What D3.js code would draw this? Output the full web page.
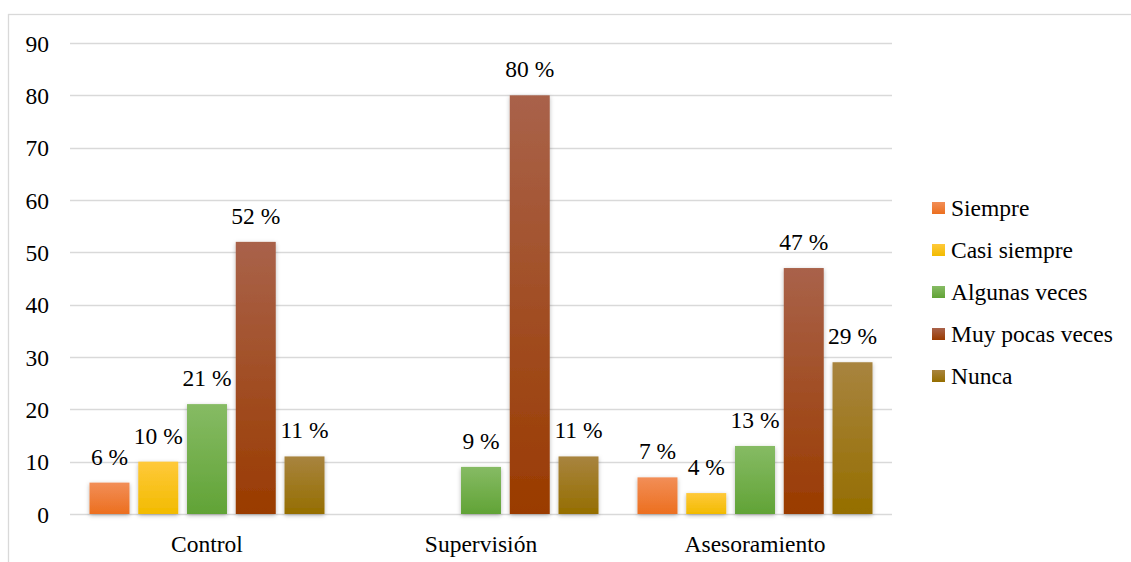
<!DOCTYPE html>
<html>
<head>
<meta charset="utf-8">
<script src="https://cdn.jsdelivr.net/npm/d3@7/dist/d3.min.js"></script>
<style>
  html, body { margin: 0; padding: 0; background: #fff; }
  svg { display: block; }
</style>
</head>
<body>
<svg id="chart" width="1131" height="562"></svg>
<script>
// Response categories (series) and survey dimensions (groups)
const categories = ["Control", "Supervisión", "Asesoramiento"];
const seriesNames = ["Siempre", "Casi siempre", "Algunas veces", "Muy pocas veces", "Nunca"];
// Percentages per dimension; null where no answer was recorded
const siempre       = [6, null, 7];
const casiSiempre   = [10, null, 4];
const algunasVeces  = [21, 9, 13];
const muyPocasVeces = [52, 80, 47];
const nunca         = [11, 11, 29];
const yTicks = [0, 10, 20, 30, 40, 50, 60, 70, 80, 90];

const seriesValues = [siempre, casiSiempre, algunasVeces, muyPocasVeces, nunca];
// top / bottom colours of each bar gradient
const colors = [
  ["#f28e57", "#ec6f1f"],
  ["#ffc93a", "#f2bb00"],
  ["#86bb64", "#61a336"],
  ["#a9624a", "#9a3b00"],
  ["#a8843f", "#956e00"]
];

const FONT = "Liberation Serif, Times New Roman, serif";
const FS = 23.5;

const svg = d3.select("#chart");
const W = 1131, H = 562;

// outer frame
svg.append("rect")
  .attr("x", 8.5).attr("y", 14.5)
  .attr("width", W + 10).attr("height", H + 10)
  .attr("fill", "none").attr("stroke", "#d9d9d9").attr("stroke-width", 1.3);

const plot = { left: 70, right: 892, top: 43, bottom: 514 };

const x0 = d3.scaleBand().domain(categories).range([plot.left, plot.right]).paddingInner(0).paddingOuter(0);
const x1 = d3.scaleBand().domain(seriesNames).range([19.5, x0.bandwidth() - 19.5]).paddingInner(0.18).paddingOuter(0);
const y = d3.scaleLinear().domain([0, 90]).range([plot.bottom, plot.top]);

const defs = svg.append("defs");
colors.forEach((c, i) => {
  const g = defs.append("linearGradient").attr("id", "grad" + i)
    .attr("x1", 0).attr("y1", 0).attr("x2", 0).attr("y2", 1);
  g.append("stop").attr("offset", "0%").attr("stop-color", c[0]);
  g.append("stop").attr("offset", "100%").attr("stop-color", c[1]);
});
const sh = defs.append("filter").attr("id", "shadow")
  .attr("x", "-30%").attr("y", "-10%").attr("width", "160%").attr("height", "130%");
sh.append("feDropShadow").attr("dx", 0).attr("dy", 1.5).attr("stdDeviation", 2)
  .attr("flood-color", "#000").attr("flood-opacity", 0.28);

// gridlines
svg.append("g")
  .selectAll("line").data(yTicks).join("line")
  .attr("x1", plot.left).attr("x2", plot.right)
  .attr("y1", d => Math.round(y(d)) + 0.5).attr("y2", d => Math.round(y(d)) + 0.5)
  .attr("stroke", "#d9d9d9").attr("stroke-width", 1.5);

// y axis labels
const yAxis = d3.axisLeft(y).tickValues(yTicks).tickSize(0).tickPadding(0);
const yg = svg.append("g").attr("transform", `translate(49,0)`).call(yAxis)
  .attr("font-family", FONT).attr("font-size", FS);
yg.select(".domain").remove();
yg.selectAll("text").attr("fill", "#000").attr("dy", "0.35em");

// x axis labels
const xAxis = d3.axisBottom(x0).tickSize(0).tickPadding(0);
const xg = svg.append("g").attr("transform", `translate(0,${plot.bottom})`).call(xAxis)
  .attr("font-family", FONT).attr("font-size", FS);
xg.select(".domain").remove();
xg.selectAll("text").attr("fill", "#000").attr("dy", null).attr("y", 38);

// bars
const groups = svg.append("g").selectAll("g").data(categories).join("g")
  .attr("transform", d => `translate(${x0(d)},0)`);

const rows = (cat, ci) => seriesNames.map((s, si) => ({ s, si, v: seriesValues[si][ci] }))
  .filter(d => d.v !== null);

groups.selectAll("rect").data((d, ci) => rows(d, ci)).join("rect")
  .attr("x", d => x1(d.s))
  .attr("width", x1.bandwidth())
  .attr("y", d => y(d.v))
  .attr("height", d => y(0) - y(d.v))
  .attr("fill", d => `url(#grad${d.si})`)
  .attr("filter", "url(#shadow)");

groups.selectAll("text.val").data((d, ci) => rows(d, ci)).join("text")
  .attr("class", "val")
  .attr("x", d => x1(d.s) + x1.bandwidth() / 2)
  .attr("y", d => y(d.v) - 18)
  .attr("text-anchor", "middle")
  .attr("font-family", FONT).attr("font-size", FS).attr("fill", "#000")
  .text(d => `${d.v} %`);

// legend
const legend = svg.append("g").attr("transform", "translate(932,208)");
const li = legend.selectAll("g").data(seriesNames).join("g")
  .attr("transform", (d, i) => `translate(0,${i * 42})`);
li.append("rect").attr("x", 0).attr("y", -6).attr("width", 13).attr("height", 12)
  .attr("fill", (d, i) => `url(#grad${i})`);
li.append("text").attr("x", 19).attr("dy", "0.35em")
  .attr("font-family", FONT).attr("font-size", FS).attr("fill", "#000")
  .text(d => d);
</script>
</body>
</html>
